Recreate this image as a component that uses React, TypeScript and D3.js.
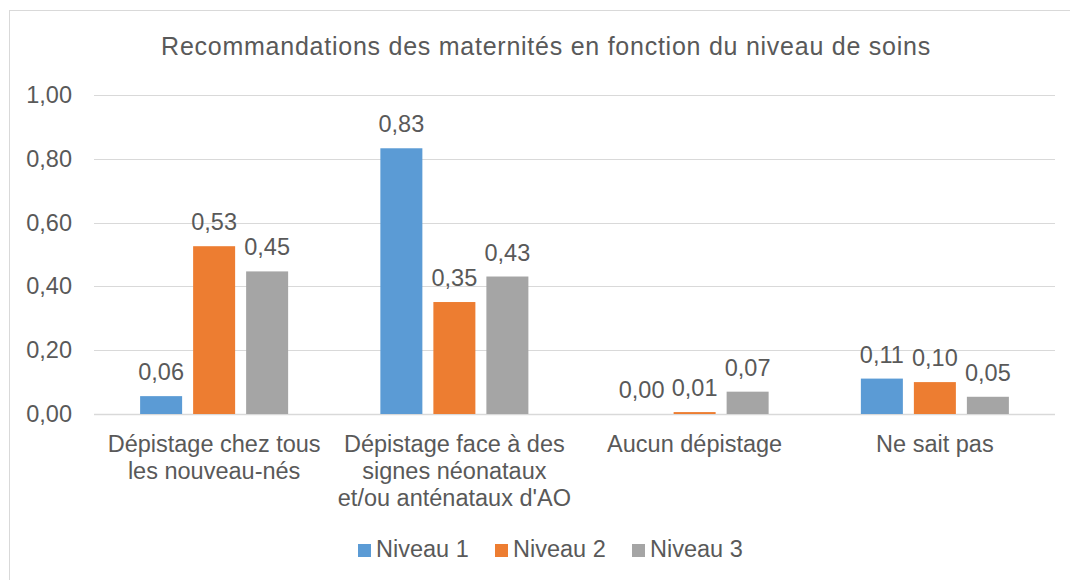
import React from 'react';
import * as d3 from 'd3';

const categories = [
  ['Dépistage chez tous', 'les nouveau-nés'],
  ['Dépistage face à des', 'signes néonataux', "et/ou anténataux d'AO"],
  ['Aucun dépistage'],
  ['Ne sait pas'],
];
const seriesNames = ['Niveau 1', 'Niveau 2', 'Niveau 3'];
const niveau1 = [0.056, 0.833, 0, 0.111];
const niveau2 = [0.526, 0.351, 0.006, 0.1];
const niveau3 = [0.447, 0.431, 0.07, 0.054];
const yTicks = [0, 0.2, 0.4, 0.6, 0.8, 1.0];
const colors = ['#5B9BD5', '#ED7D31', '#A5A5A5'];

const fmt = (v: number) => d3.format('.2f')(v).replace('.', ',');

const App = () => {
  const width = 1070;
  const height = 580;
  const margin = { left: 94, right: 15, top: 95, bottom: 166 };
  const series = [niveau1, niveau2, niveau3];
  const font = '"Liberation Sans", Arial, sans-serif';
  const textColor = '#595959';
  const fs = 23.5;

  const x0 = d3
    .scaleBand<number>()
    .domain(d3.range(categories.length))
    .range([margin.left, width - margin.right]);
  const x1 = d3
    .scaleBand<number>()
    .domain(d3.range(series.length))
    .range([0, x0.bandwidth()])
    .paddingInner(0.2075)
    .paddingOuter(0.87);
  const y = d3
    .scaleLinear()
    .domain([0, 1])
    .range([height - margin.bottom, margin.top]);

  return (
    <svg
      width={width}
      height={height}
      style={{ position: 'absolute', left: 0, top: 0 }}
      fontFamily={font}
    >
      <rect x={0} y={0} width={width} height={height} fill="#fff" />
      <rect
        x={9.5}
        y={10.5}
        width={width + 10}
        height={height + 10}
        fill="none"
        stroke="#D9D9D9"
      />
      <text
        x={546}
        y={55}
        textAnchor="middle"
        fontSize={25}
        letterSpacing={0.75}
        fill={textColor}
      >
        Recommandations des maternités en fonction du niveau de soins
      </text>
      {yTicks.map(t => (
        <g key={t}>
          <line
            x1={margin.left}
            x2={width - margin.right}
            y1={Math.round(y(t)) + 0.5}
            y2={Math.round(y(t)) + 0.5}
            stroke="#D9D9D9"
            strokeWidth={t === 0 ? 1.5 : 1}
          />
          <text
            x={72}
            y={y(t) + 8}
            textAnchor="end"
            fontSize={fs}
            fill={textColor}
          >
            {fmt(t)}
          </text>
        </g>
      ))}
      {categories.map((cat, i) => (
        <g key={i} transform={`translate(${x0(i)}, 0)`}>
          {series.map((s, j) => (
            <g key={j}>
              <rect
                x={x1(j)}
                y={y(s[i])}
                width={x1.bandwidth()}
                height={y(0) - y(s[i])}
                fill={colors[j]}
              />
              <text
                x={(x1(j) || 0) + x1.bandwidth() / 2}
                y={y(s[i]) - 16}
                textAnchor="middle"
                fontSize={fs}
                fill={textColor}
              >
                {fmt(s[i])}
              </text>
            </g>
          ))}
          {cat.map((line, k) => (
            <text
              key={k}
              x={x0.bandwidth() / 2}
              y={452 + k * 27}
              textAnchor="middle"
              fontSize={fs}
              fill={textColor}
            >
              {line}
            </text>
          ))}
        </g>
      ))}
      {seriesNames.map((name, j) => {
        const lx = [358, 495, 632][j];
        return (
          <g key={name}>
            <rect x={lx} y={544} width={13} height={13} fill={colors[j]} />
            <text x={lx + 18} y={557} fontSize={fs} fill={textColor}>
              {name}
            </text>
          </g>
        );
      })}
    </svg>
  );
};

export default App;
